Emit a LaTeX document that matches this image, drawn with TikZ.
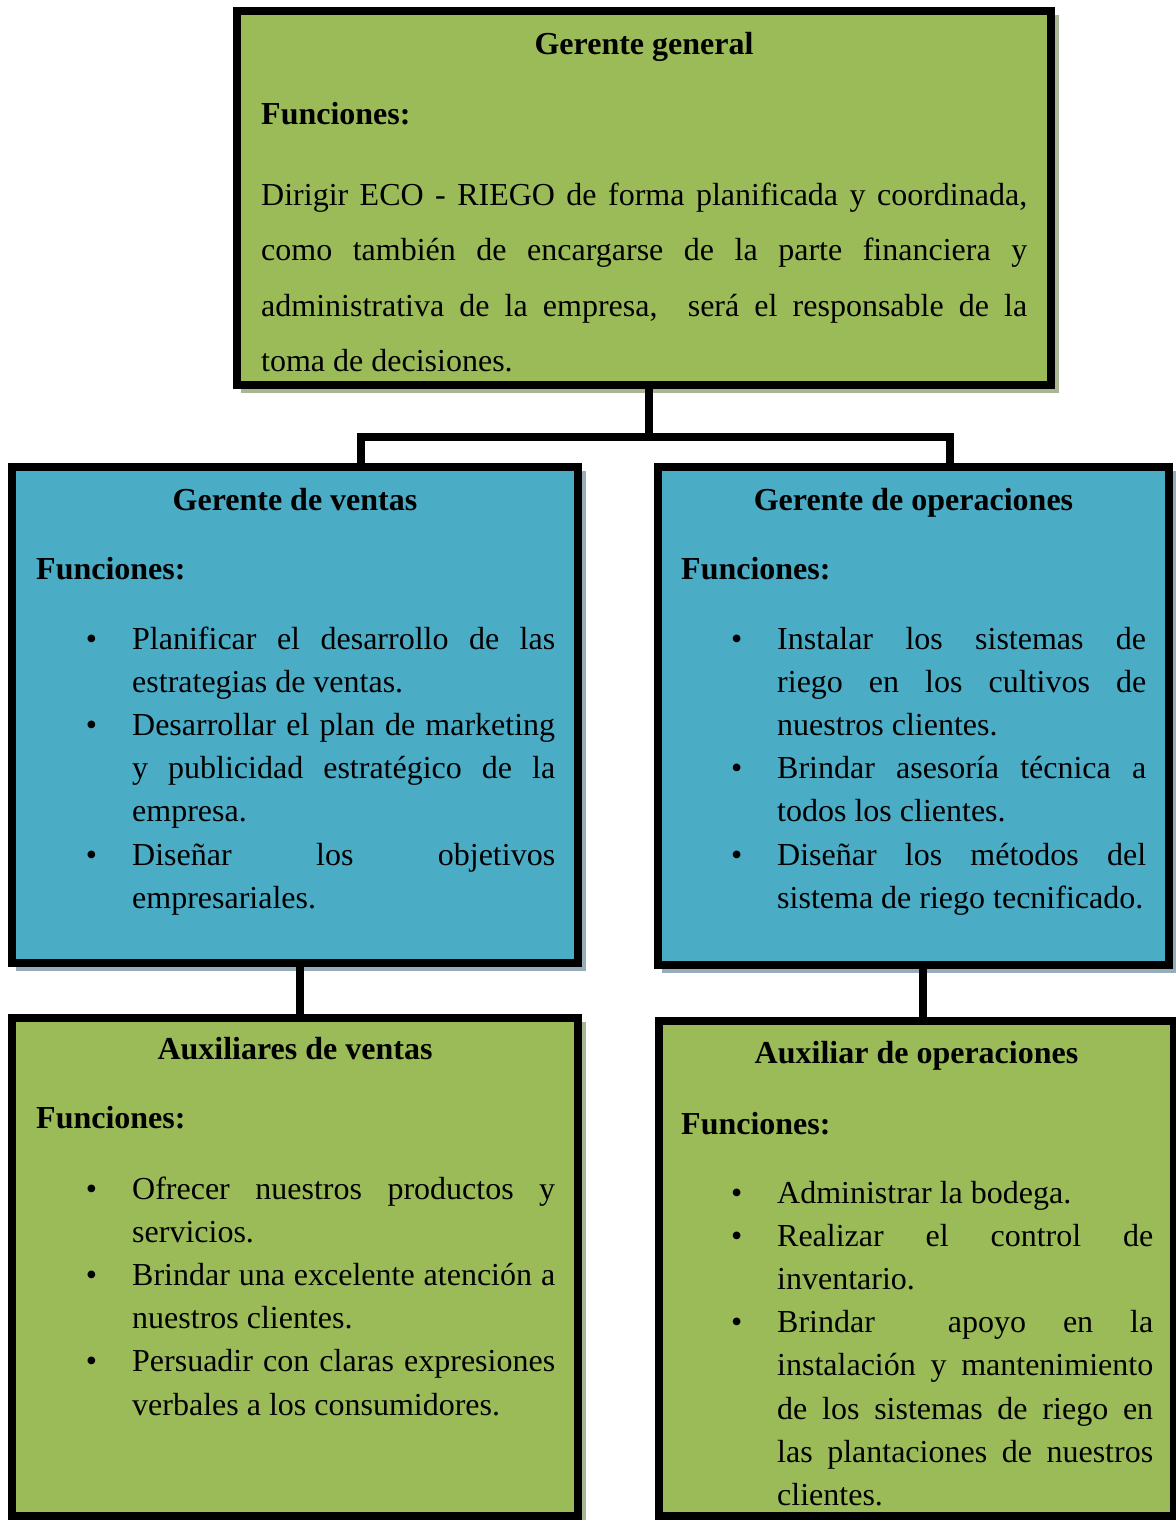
\documentclass[tikz,border=0pt]{standalone}
\usepackage{fontspec}
\setmainfont{Liberation Serif}
\definecolor{boxgreen}{HTML}{9BBB59}
\definecolor{boxblue}{HTML}{4BACC6}
\definecolor{shgreen}{HTML}{A9B595}
\definecolor{shblue}{HTML}{97AEBA}
\newcommand{\blt}{\llap{\textbullet\hspace{35pt}}}
\newcommand{\jl}[2]{\makebox[#1pt][s]{#2}}
\tikzset{
  orgbox/.style={draw=black, line width=8pt, rectangle, inner sep=0pt, outer sep=0pt},
  greenbox/.style={orgbox, fill=boxgreen},
  bluebox/.style={orgbox, fill=boxblue},
  conn/.style={draw=black, line width=8pt, line join=miter, line cap=butt},
  ttl/.style={anchor=base, inner sep=0pt, font=\fontsize{32}{43.2}\selectfont\bfseries},
  fun/.style={anchor=base west, inner sep=0pt, font=\fontsize{32}{43.2}\selectfont\bfseries},
  body/.style={anchor=base west, inner sep=0pt, align=left, font=\fontsize{32}{43.2}\selectfont},
}
\begin{document}
\begin{tikzpicture}[x=1pt,y=-1pt]
\useasboundingbox (0,0) rectangle (1175,1520);
% shadows
\fill[shgreen] (241,15) rectangle (1059,393);
\fill[shblue] (16,471) rectangle (586,971);
\fill[shblue] (662,471) rectangle (1177,973);
\fill[shgreen] (16,1022) rectangle (586,1524);
% boxes
\node[greenbox, minimum width=814pt, minimum height=374pt] (gg) at (644,198) {};
\node[bluebox, minimum width=566pt, minimum height=496pt] (gv) at (295,715) {};
\node[bluebox, minimum width=511pt, minimum height=498pt] (go) at (913.5,716) {};
\node[greenbox, minimum width=566pt, minimum height=498pt] (av) at (295,1267) {};
\node[greenbox, minimum width=515pt, minimum height=495pt] (ao) at (916.5,1268.5) {};
% connectors
\coordinate (jc) at (649,437);
\coordinate (jl) at (360.5,437);
\coordinate (jr) at (949.5,437);
\coordinate (jv) at (300,1000);
\coordinate (jo) at (923,1000);
\draw[conn] (gg.south -| jc) -- (jc);
\draw[conn] (gv.north -| jl) -- (jl) -- (jr) -- (go.north -| jr);
\draw[conn] (gv.south -| jv) -- (av.north -| jv);
\draw[conn] (go.south -| jo) -- (ao.north -| jo);
% Gerente general
\node[ttl] (t1) at (gg.center |- 0,55) {Gerente general};
\node[fun] (f1) at (261,124) {Funciones:};
\node[body, font=\fontsize{32}{55.6}\selectfont] (b1) at (261,371.8) {\jl{766}{Dirigir ECO - RIEGO de forma planificada y coordinada,}\\
\jl{766}{como también de encargarse de la parte financiera y}\\
\jl{766}{administrativa de la empresa,\ \ será el responsable de la}\\
toma de decisiones.};
% Gerente de ventas
\node[ttl] (t2) at (gv.center |- 0,510) {Gerente de ventas};
\node[fun] (f2) at (36,579) {Funciones:};
\node[body] (b2) at (132,908.2) {\blt\jl{423}{Planificar el desarrollo de las}\\
estrategias de ventas.\\
\blt\jl{423}{Desarrollar el plan de marketing}\\
\jl{423}{y publicidad estratégico de la}\\
empresa.\\
\blt\jl{423}{Diseñar los objetivos}\\
empresariales.};
% Gerente de operaciones
\node[ttl] (t3) at (go.center |- 0,510) {Gerente de operaciones};
\node[fun] (f3) at (681,579) {Funciones:};
\node[body] (b3) at (777,908.2) {\blt\jl{369}{Instalar los sistemas de}\\
\jl{369}{riego en los cultivos de}\\
nuestros clientes.\\
\blt\jl{369}{Brindar asesoría técnica a}\\
todos los clientes.\\
\blt\jl{369}{Diseñar los métodos del}\\
sistema de riego tecnificado.};
% Auxiliares de ventas
\node[ttl] (t4) at (av.center |- 0,1059) {Auxiliares de ventas};
\node[fun] (f4) at (36,1128) {Funciones:};
\node[body] (b4) at (132,1415) {\blt\jl{423}{Ofrecer nuestros productos y}\\
servicios.\\
\blt\jl{423}{Brindar una excelente atención a}\\
nuestros clientes.\\
\blt\jl{423}{Persuadir con claras expresiones}\\
verbales a los consumidores.};
% Auxiliar de operaciones
\node[ttl] (t5) at (ao.center |- 0,1063) {Auxiliar de operaciones};
\node[fun] (f5) at (681,1134) {Funciones:};
\node[body] (b5) at (777,1505.4) {\blt Administrar la bodega.\\
\blt\jl{376}{Realizar el control de}\\
inventario.\\
\blt\jl{376}{Brindar\hspace*{36pt} apoyo en la}\\
\jl{376}{instalación y mantenimiento}\\
\jl{376}{de los sistemas de riego en}\\
\jl{376}{las plantaciones de nuestros}\\
clientes.};
\end{tikzpicture}
\end{document}
